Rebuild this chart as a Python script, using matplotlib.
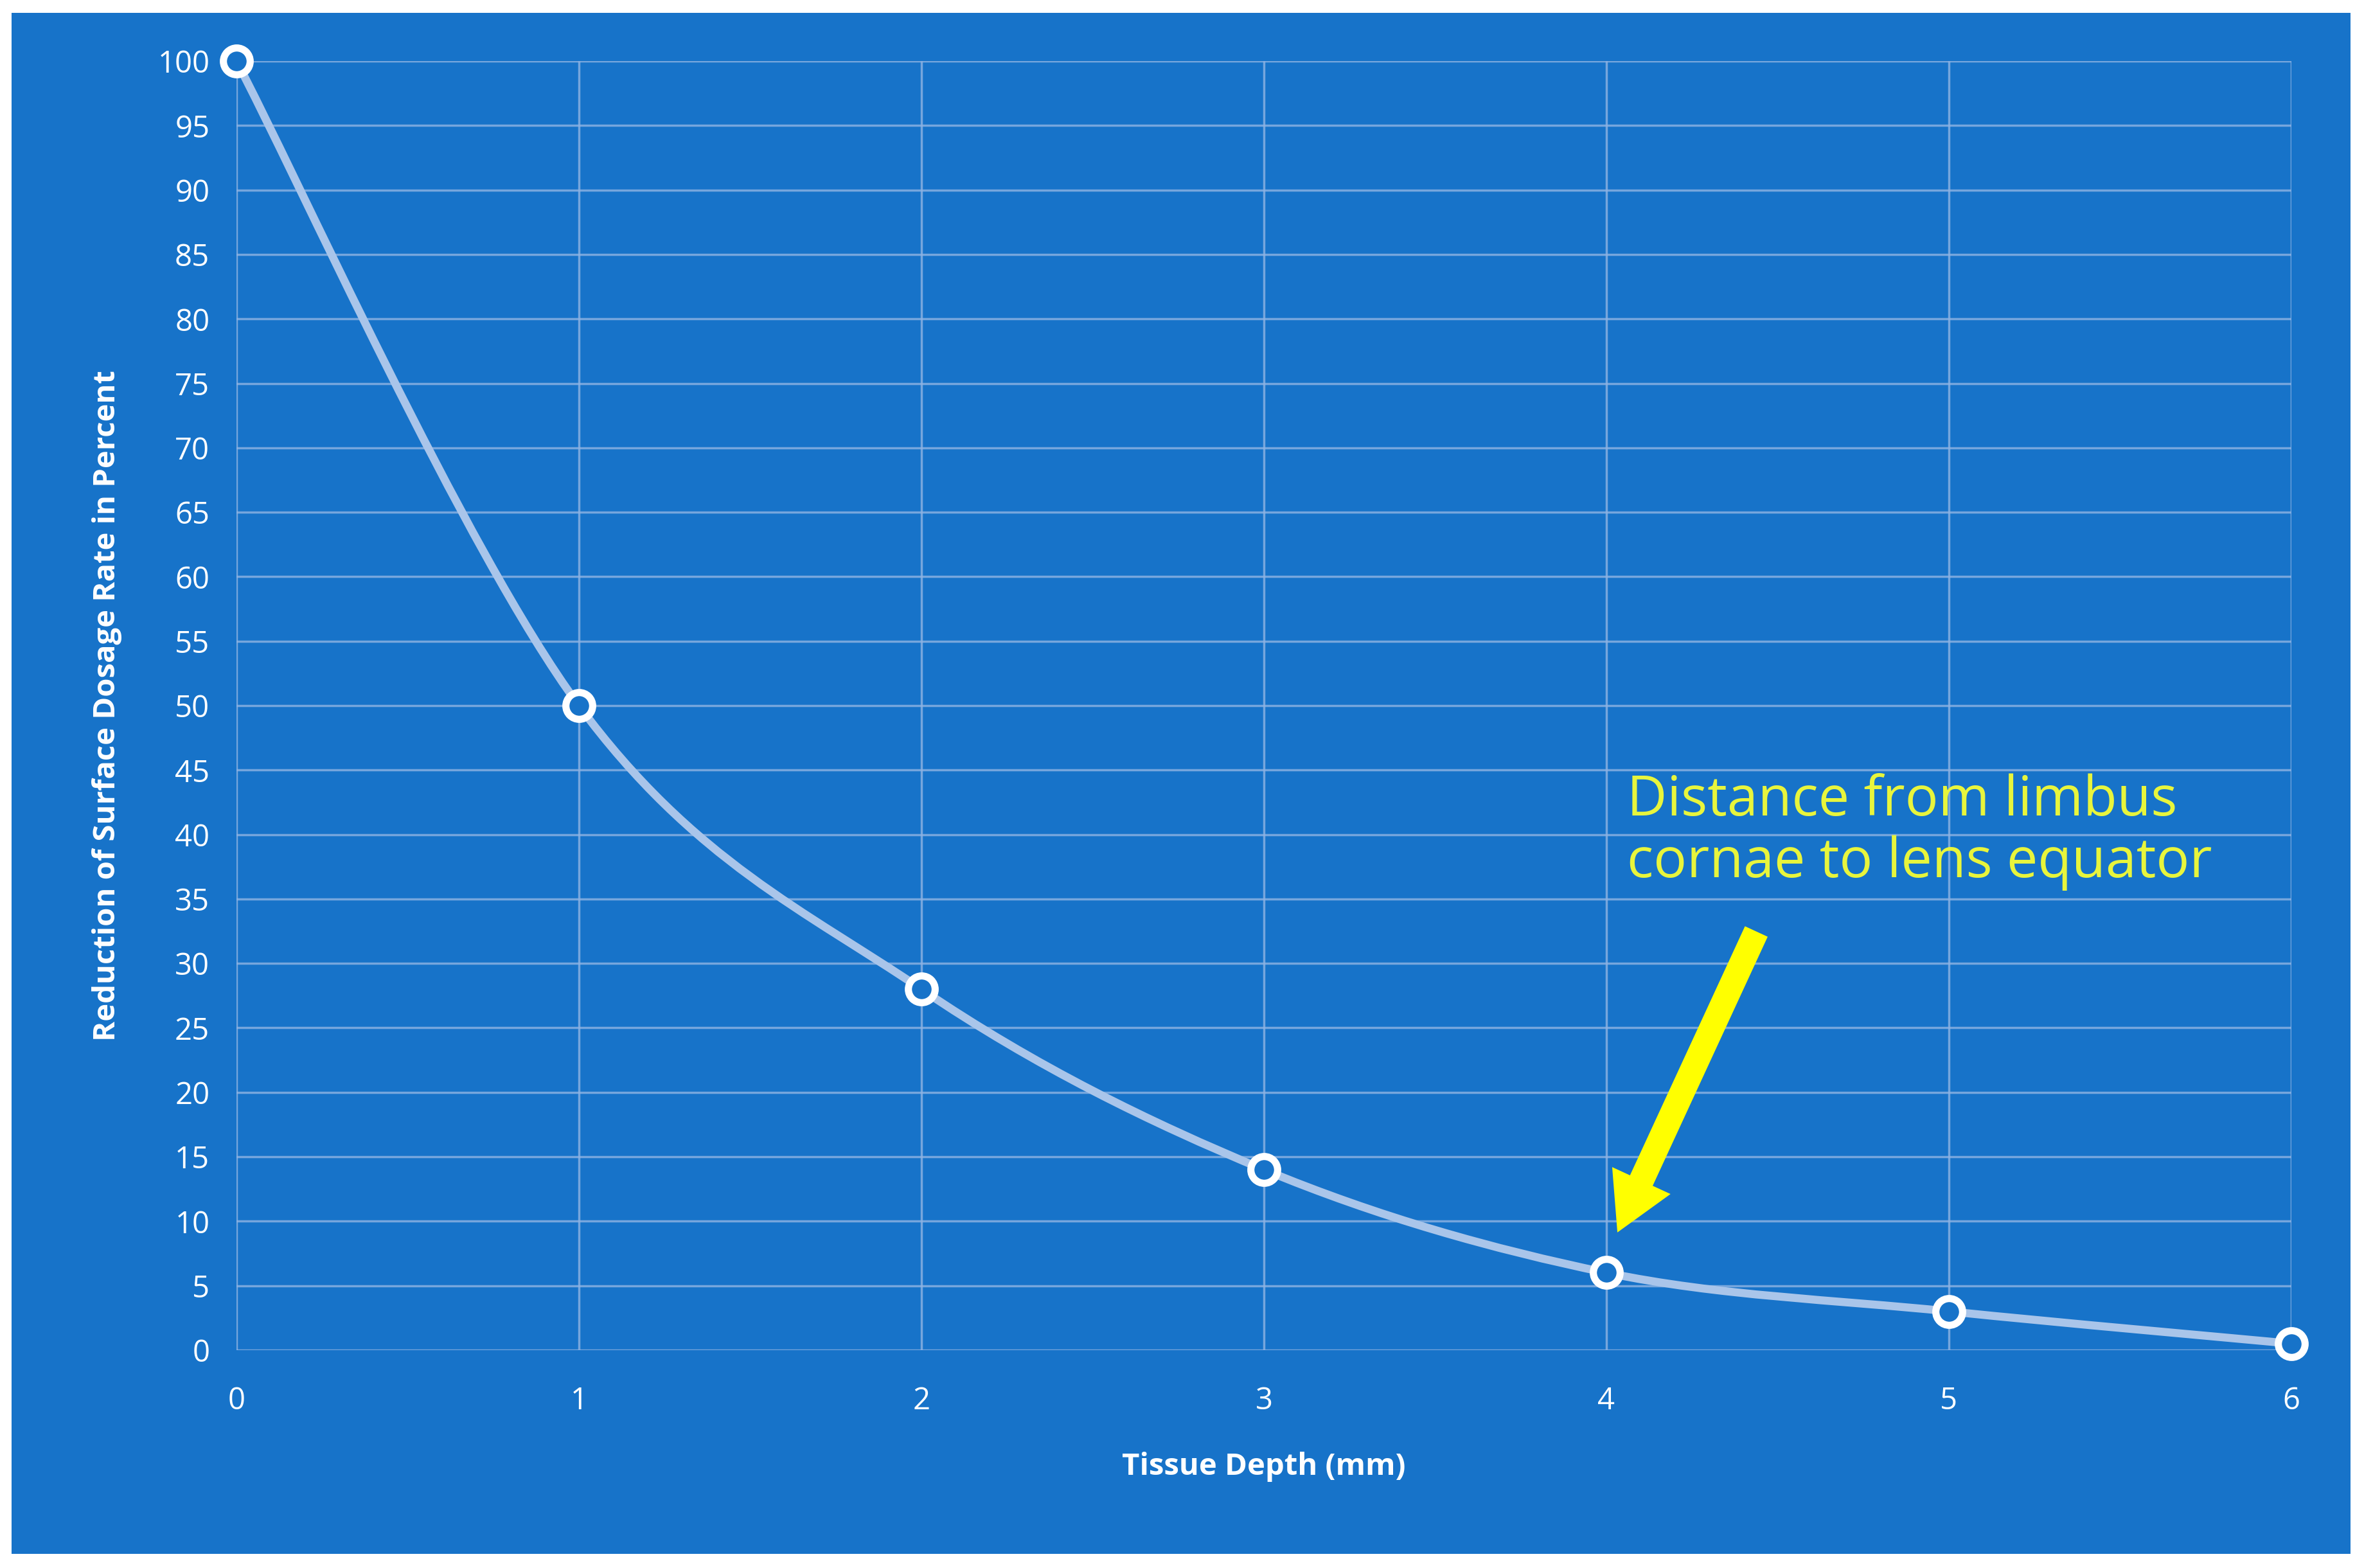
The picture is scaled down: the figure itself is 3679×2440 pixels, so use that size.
import matplotlib.pyplot as plt
from matplotlib.path import Path
import matplotlib.patches as mpatches

depth_mm = [0, 1, 2, 3, 4, 5, 6]
reduction_pct = [100, 50, 28, 14, 6, 3, 0.5]
y_ticks = list(range(0, 101, 5))
note = "Distance from limbus\ncornae to lens equator"

BG = "#1773c9"
LINE = "#a9c5ea"
plt.rcParams["font.family"] = ["Open Sans", "DejaVu Sans"]

fig = plt.figure(figsize=(36.8, 24.4), dpi=100, facecolor="white")
# blue panel behind the plot, with a thin white margin
bg_ax = fig.add_axes([0, 0, 1, 1], zorder=-10)
bg_ax.set_axis_off()
bg_ax.add_patch(mpatches.Rectangle((0.005, 0.009), 0.989, 0.983, transform=bg_ax.transAxes,
                                   facecolor=BG, edgecolor="none"))

ax = fig.add_axes([0.100, 0.139, 0.869, 0.822])
ax.set_facecolor("none")
ax.set_xlim(0, 6)
ax.set_ylim(0, 100)
ax.set_xticks(depth_mm)
ax.set_yticks(y_ticks)
ax.grid(True, color="#8fb3e3", linewidth=2.5, alpha=0.8)
ax.set_axisbelow(True)
for s in ax.spines.values():
    s.set_visible(False)
ax.tick_params(colors="white", labelsize=34, length=0, pad=40)
ax.tick_params(axis="y", pad=30)

# smooth curve through points (Catmull-Rom as cubic Bezier segments)
pts = list(zip(depth_mm, reduction_pct))
verts = [pts[0]]
codes = [Path.MOVETO]
for i in range(len(pts) - 1):
    p0 = pts[i - 1] if i > 0 else pts[i]
    p1, p2 = pts[i], pts[i + 1]
    p3 = pts[i + 2] if i + 2 < len(pts) else p2
    c1 = (p1[0] + (p2[0] - p0[0]) / 6, p1[1] + (p2[1] - p0[1]) / 6)
    c2 = (p2[0] - (p3[0] - p1[0]) / 6, p2[1] - (p3[1] - p1[1]) / 6)
    verts += [c1, c2, p2]
    codes += [Path.CURVE4] * 3
ax.add_patch(mpatches.PathPatch(Path(verts, codes), facecolor="none", edgecolor=LINE,
                                linewidth=9, zorder=3, clip_on=False))
ax.plot(depth_mm, reduction_pct, linestyle="none", marker="o", markersize=30,
        markerfacecolor=BG, markeredgecolor="white", markeredgewidth=8, zorder=4, clip_on=False)

ax.text(4.06, 40.2, note, color="#e8f53c", fontsize=62, va="center", ha="left", linespacing=1.15)
ax.annotate("", xy=(4.03, 9.0), xytext=(4.44, 32.6),
            arrowprops=dict(arrowstyle="simple,head_length=1.6,head_width=1.8,tail_width=0.7",
                            mutation_scale=40, color="#ffff00", linewidth=0))

ax.set_xlabel("Tissue Depth (mm)", color="white", fontsize=34, fontweight="bold", labelpad=40)
ax.set_ylabel("Reduction of Surface Dosage Rate in Percent", color="white", fontsize=34,
              fontweight="bold", labelpad=40)

fig.savefig("out.png", dpi=100, facecolor="white")
